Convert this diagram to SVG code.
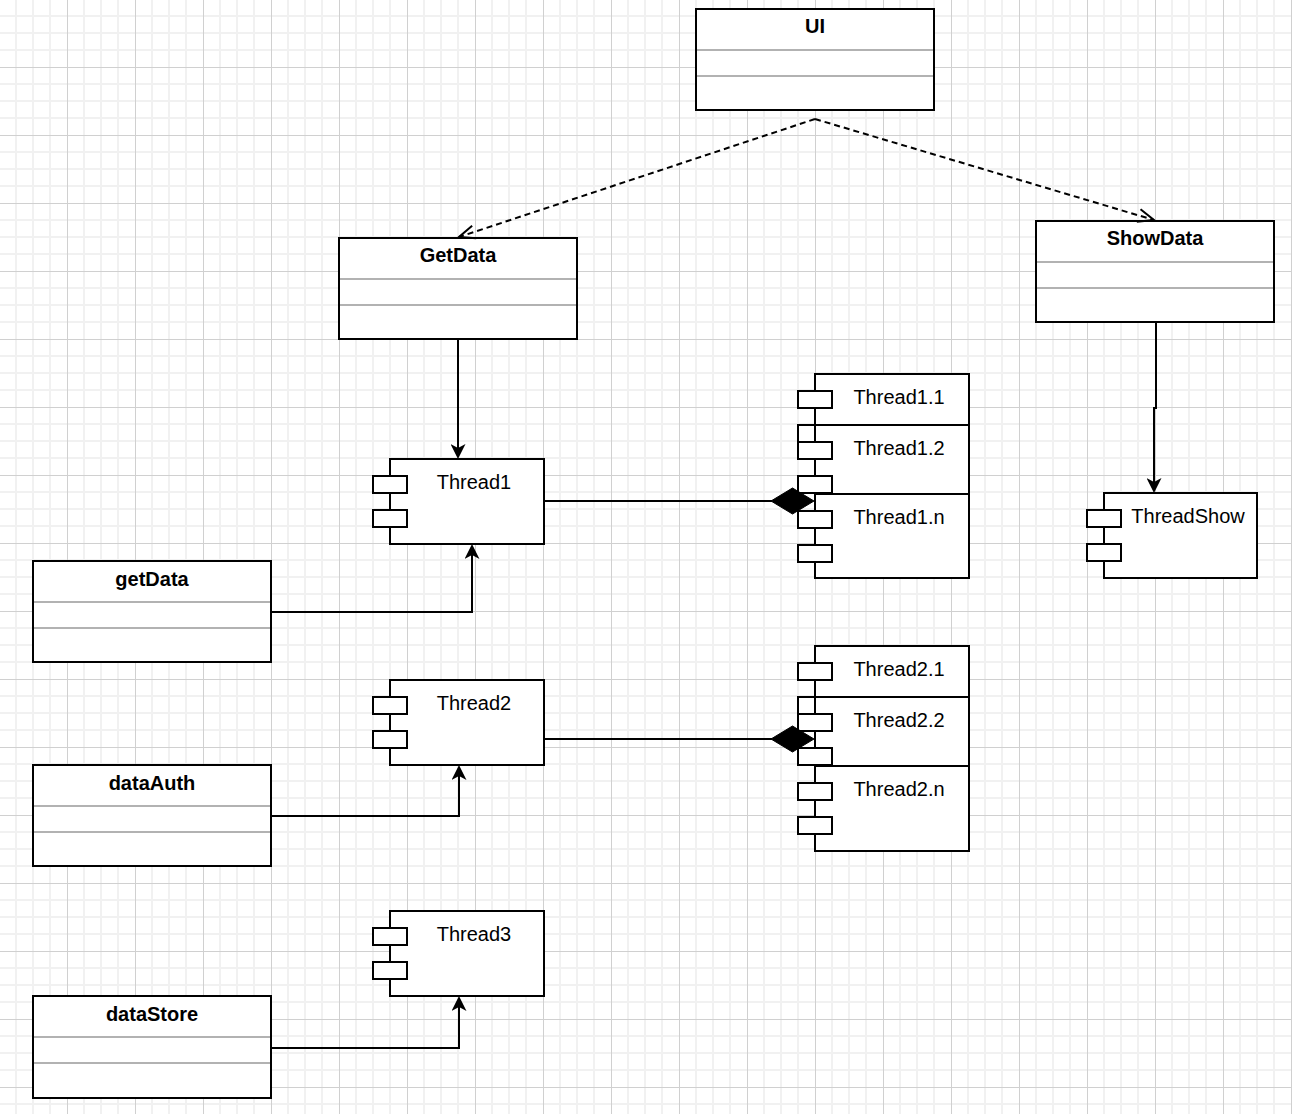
<svg xmlns="http://www.w3.org/2000/svg" width="1292" height="1114" viewBox="0 0 1292 1114">
<style>
.box{fill:#fff;stroke:#000;stroke-width:2}
.div{stroke:#999;stroke-width:1.5;fill:none}
.title{font-family:"Liberation Sans",Arial,Helvetica,sans-serif;font-size:20px;font-weight:bold;text-anchor:middle;fill:#000}
.lbl{font-family:"Liberation Sans",Arial,Helvetica,sans-serif;font-size:20px;text-anchor:middle;fill:#000}
.edge{fill:none;stroke:#000;stroke-width:2}
.dash{stroke-dasharray:6 4}
</style>
<defs>
<pattern id="grid" width="68" height="68" patternUnits="userSpaceOnUse">
<path d="M16,0V68M33,0V68M50,0V68M0,16H68M0,33H68M0,50H68" stroke="#f1f1f1" stroke-width="2" fill="none"/>
<path d="M67.5,0V68M0,67.5H68" stroke="#d0d0d0" stroke-width="1" fill="none"/>
</pattern>
<marker id="classic" viewBox="0 0 15 15" refX="7" refY="7.5" markerWidth="15" markerHeight="15" markerUnits="userSpaceOnUse" orient="auto">
<path d="M0,0 L15,7.5 L0,15 L4,7.5 Z" fill="#000" stroke="none"/>
</marker>
<marker id="open" viewBox="0 0 20 17" refX="18" refY="8.5" markerWidth="20" markerHeight="17" markerUnits="userSpaceOnUse" orient="auto">
<path d="M2,2 L18,8.5 L2,15" fill="none" stroke="#000" stroke-width="2" stroke-dasharray="none"/>
</marker>
</defs>
<rect width="1292" height="1114" fill="#fff"/>
<rect width="1292" height="1114" fill="url(#grid)"/>

<g id="UI">
<rect class="box" x="696" y="9" width="238" height="101"/>
<path class="div" d="M697,50H933M697,76H933"/>
<text class="title" x="815" y="33">UI</text>
</g>
<g id="GetData">
<rect class="box" x="339" y="238" width="238" height="101"/>
<path class="div" d="M340,279H576M340,305H576"/>
<text class="title" x="458" y="262">GetData</text>
</g>
<g id="ShowData">
<rect class="box" x="1036" y="221" width="238" height="101"/>
<path class="div" d="M1037,262H1273M1037,288H1273"/>
<text class="title" x="1155" y="245">ShowData</text>
</g>
<g id="getData">
<rect class="box" x="33" y="561" width="238" height="101"/>
<path class="div" d="M34,602H270M34,628H270"/>
<text class="title" x="152" y="586">getData</text>
</g>
<g id="dataAuth">
<rect class="box" x="33" y="765" width="238" height="101"/>
<path class="div" d="M34,806H270M34,832H270"/>
<text class="title" x="152" y="790">dataAuth</text>
</g>
<g id="dataStore">
<rect class="box" x="33" y="996" width="238" height="102"/>
<path class="div" d="M34,1037H270M34,1063H270"/>
<text class="title" x="152" y="1021">dataStore</text>
</g>

<g id="Thread1">
<rect class="box" x="390" y="459" width="154" height="85"/>
<rect class="box" x="373" y="476" width="34" height="17"/>
<rect class="box" x="373" y="510" width="34" height="17"/>
<text class="lbl" x="474" y="489">Thread1</text>
</g>
<g id="Thread2">
<rect class="box" x="390" y="680" width="154" height="85"/>
<rect class="box" x="373" y="697" width="34" height="17"/>
<rect class="box" x="373" y="731" width="34" height="17"/>
<text class="lbl" x="474" y="710">Thread2</text>
</g>
<g id="Thread3">
<rect class="box" x="390" y="911" width="154" height="85"/>
<rect class="box" x="373" y="928" width="34" height="17"/>
<rect class="box" x="373" y="962" width="34" height="17"/>
<text class="lbl" x="474" y="941">Thread3</text>
</g>
<g id="ThreadShow">
<rect class="box" x="1104" y="493" width="153" height="85"/>
<rect class="box" x="1087" y="510" width="34" height="17"/>
<rect class="box" x="1087" y="544" width="34" height="17"/>
<text class="lbl" x="1188" y="523">ThreadShow</text>
</g>
<g id="Thread1.1">
<rect class="box" x="815" y="374" width="154" height="85"/>
<rect class="box" x="798" y="391" width="34" height="17"/>
<rect class="box" x="798" y="425" width="34" height="17"/>
<text class="lbl" x="899" y="404">Thread1.1</text>
</g>
<g id="Thread1.2">
<rect class="box" x="815" y="425" width="154" height="85"/>
<rect class="box" x="798" y="442" width="34" height="17"/>
<rect class="box" x="798" y="476" width="34" height="17"/>
<text class="lbl" x="899" y="455">Thread1.2</text>
</g>
<g id="Thread1.n">
<rect class="box" x="815" y="494" width="154" height="84"/>
<rect class="box" x="798" y="511" width="34" height="17"/>
<rect class="box" x="798" y="545" width="34" height="17"/>
<text class="lbl" x="899" y="524">Thread1.n</text>
</g>
<g id="Thread2.1">
<rect class="box" x="815" y="646" width="154" height="85"/>
<rect class="box" x="798" y="663" width="34" height="17"/>
<rect class="box" x="798" y="697" width="34" height="17"/>
<text class="lbl" x="899" y="676">Thread2.1</text>
</g>
<g id="Thread2.2">
<rect class="box" x="815" y="697" width="154" height="85"/>
<rect class="box" x="798" y="714" width="34" height="17"/>
<rect class="box" x="798" y="748" width="34" height="17"/>
<text class="lbl" x="899" y="727">Thread2.2</text>
</g>
<g id="Thread2.n">
<rect class="box" x="815" y="766" width="154" height="85"/>
<rect class="box" x="798" y="783" width="34" height="17"/>
<rect class="box" x="798" y="817" width="34" height="17"/>
<text class="lbl" x="899" y="796">Thread2.n</text>
</g>

<g id="connectors">
<path class="edge dash" d="M815,119 L459,237" marker-end="url(#open)"/>
<path class="edge dash" d="M815,119 L1154,220" marker-end="url(#open)"/>
<path class="edge" d="M458,339 L458,451" marker-end="url(#classic)"/>
<path class="edge" d="M1156,322 L1156,408 L1154,408 L1154,485" marker-end="url(#classic)"/>
<path class="edge" d="M271,612 L472,612 L472,552" marker-end="url(#classic)"/>
<path class="edge" d="M271,816 L459,816 L459,773" marker-end="url(#classic)"/>
<path class="edge" d="M271,1048 L459,1048 L459,1004" marker-end="url(#classic)"/>
<path class="edge" d="M544,501 L772,501"/>
<polygon points="771,501 792.5,488 814,501 792.5,514" fill="#000" stroke="#000" stroke-width="1"/>
<path class="edge" d="M544,739 L772,739"/>
<polygon points="771,739 792.5,726 814,739 792.5,752" fill="#000" stroke="#000" stroke-width="1"/>
</g>
</svg>
